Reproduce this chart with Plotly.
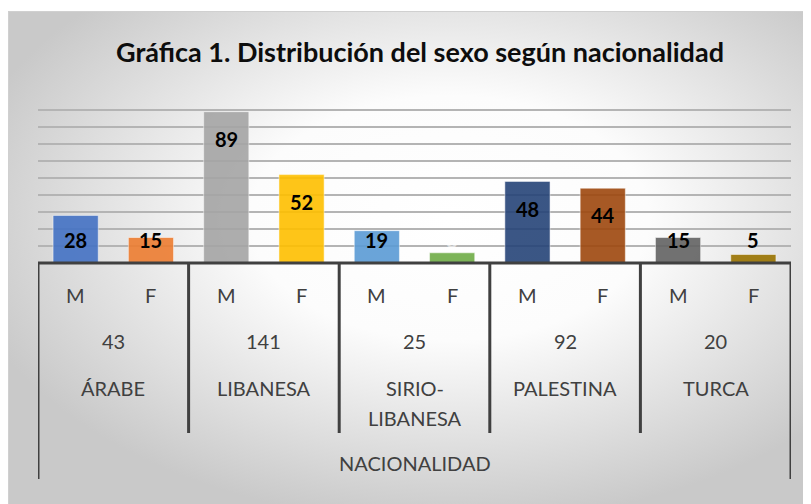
import base64
import plotly.graph_objects as go

# ---- data ----
nationalities = ["ÁRABE", "LIBANESA", "SIRIO-LIBANESA", "PALESTINA", "TURCA"]
totals = [43, 141, 25, 92, 20]
male = [28, 89, 19, 48, 15]
female = [15, 52, 6, 44, 5]
sex_labels = ["M", "F"]
title_text = "Gráfica 1. Distribución del sexo según nacionalidad"
axis_title = "NACIONALIDAD"
male_colors = ["#4472C4", "#A5A5A5", "#5B9BD5", "#264478", "#636363"]
female_colors = ["#ED7D31", "#FFC000", "#70AD47", "#9E480E", "#997300"]
show_label = [True, True, True, True, True, False, True, True, True, True]

# page has an 8px body margin; the figure is sized so it ends at the window edge
OFF = 8
W, H = 811 - OFF, 504 - OFF
ML, MR, MT, MB = 38 - OFF, 20, 93 - OFF, 241
PH = H - MT - MB


def py(p):
    """page pixel row -> paper y"""
    return (H - MB - (p - OFF)) / PH


def px(p):
    """page pixel column -> paper x"""
    return ((p - OFF) - ML) / (W - ML - MR)


values, colors, xs = [], [], []
for i in range(len(nationalities)):
    for j, (v, c) in enumerate(((male[i], male_colors[i]), (female[i], female_colors[i]))):
        values.append(v)
        colors.append(c)
        xs.append(2 * i + j)

fig = go.Figure()
fig.add_trace(go.Bar(
    x=xs, y=values, width=0.6,
    marker=dict(color=colors, opacity=0.9,
                line=dict(color="rgba(255,255,255,0.5)", width=1)),
    hoverinfo="y", showlegend=False,
))

annotations = []
# data labels (inside end, clamped near baseline)
for k, (x, v) in enumerate(zip(xs, values)):
    annotations.append(dict(
        x=x, y=max(v - 16, 13.5), xref="x", yref="y", text="<b>" + str(v) + "</b>",
        showarrow=False, yanchor="middle",
        font=dict(family="Lato", size=20,
                  color="#000000" if show_label[k] else "rgba(255,255,255,0.6)"),
    ))

axis_font = dict(family="Lato", size=20, color="#404040")
for i, nat in enumerate(nationalities):
    for j, s in enumerate(sex_labels):
        annotations.append(dict(x=2 * i + j, xref="x", y=py(295), yref="paper",
                                text=s, showarrow=False, yanchor="middle", font=axis_font))
    annotations.append(dict(x=2 * i + 0.5, xref="x", y=py(341), yref="paper",
                            text=str(totals[i]), showarrow=False, yanchor="middle", font=axis_font))
    parts = nat.split("-")
    lines = [parts[0] + "-", parts[1]] if len(parts) > 1 else parts
    for li, line in enumerate(lines):
        annotations.append(dict(x=2 * i + 0.5, xref="x", y=py(388 + 30 * li), yref="paper",
                                text=line, showarrow=False, yanchor="middle", font=axis_font))

annotations.append(dict(x=0.5, xref="paper", y=py(463), yref="paper", text=axis_title,
                        showarrow=False, yanchor="middle", font=axis_font))
annotations.append(dict(x=px(420), xref="paper", y=py(52), yref="paper",
                        text="<b>" + title_text + "</b>", showarrow=False, yanchor="middle",
                        font=dict(family="Lato", size=27, color="#0d0d0d")))

shapes = []
line_col = "#404040"
# baseline
shapes.append(dict(type="line", xref="paper", yref="paper", x0=0, x1=1, y0=py(263), y1=py(263),
                   line=dict(color=line_col, width=3)))
n = len(nationalities)
for i in range(n + 1):
    xb = 2 * i - 0.5
    bottom = 479 if i in (0, n) else 433
    shapes.append(dict(type="line", xref="x", yref="paper", x0=xb, x1=xb,
                       y0=py(263), y1=py(bottom), line=dict(color=line_col, width=3)))
# chart frame border
shapes.append(dict(type="rect", xref="paper", yref="paper", x0=px(8.5), x1=px(812), y0=py(11.5), y1=py(506),
                   line=dict(color="#d0d0d0", width=1), layer="below"))

# radial gradient background (Excel style)
svg = f'''<svg xmlns="http://www.w3.org/2000/svg" width="803" height="493" viewBox="0 0 803 493" preserveAspectRatio="none">
<defs><radialGradient id="g" cx="0.55" cy="0.42" r="0.62" gradientUnits="objectBoundingBox">
<stop offset="0" stop-color="#ffffff"/><stop offset="0.4" stop-color="#fcfcfc"/><stop offset="1" stop-color="#c9c9c9"/></radialGradient></defs>
<rect width="100%" height="100%" fill="url(#g)"/></svg>'''
src = "data:image/svg+xml;base64," + base64.b64encode(svg.encode()).decode()

fig.update_layout(
    width=W, height=H,
    margin=dict(l=ML, r=MR, t=MT, b=MB, pad=0),
    paper_bgcolor="#ffffff", plot_bgcolor="rgba(0,0,0,0)",
    xaxis=dict(range=[-0.5, 2 * n - 0.5], showgrid=False, showticklabels=False, zeroline=False,
               ticks="", showline=False, fixedrange=True),
    yaxis=dict(range=[0, 100], dtick=10, showgrid=True, gridcolor="#b4b4b4", gridwidth=1.5,
               showticklabels=False, zeroline=False, ticks="", showline=False, fixedrange=True),
    annotations=annotations, shapes=shapes,
    images=[dict(source=src, xref="paper", yref="paper", x=px(8), y=py(11), sizex=px(811) - px(8),
                 sizey=py(11) - py(504), xanchor="left", yanchor="top", sizing="stretch", layer="below")],
    bargap=0.4,
)
fig.write_html("out.html")
